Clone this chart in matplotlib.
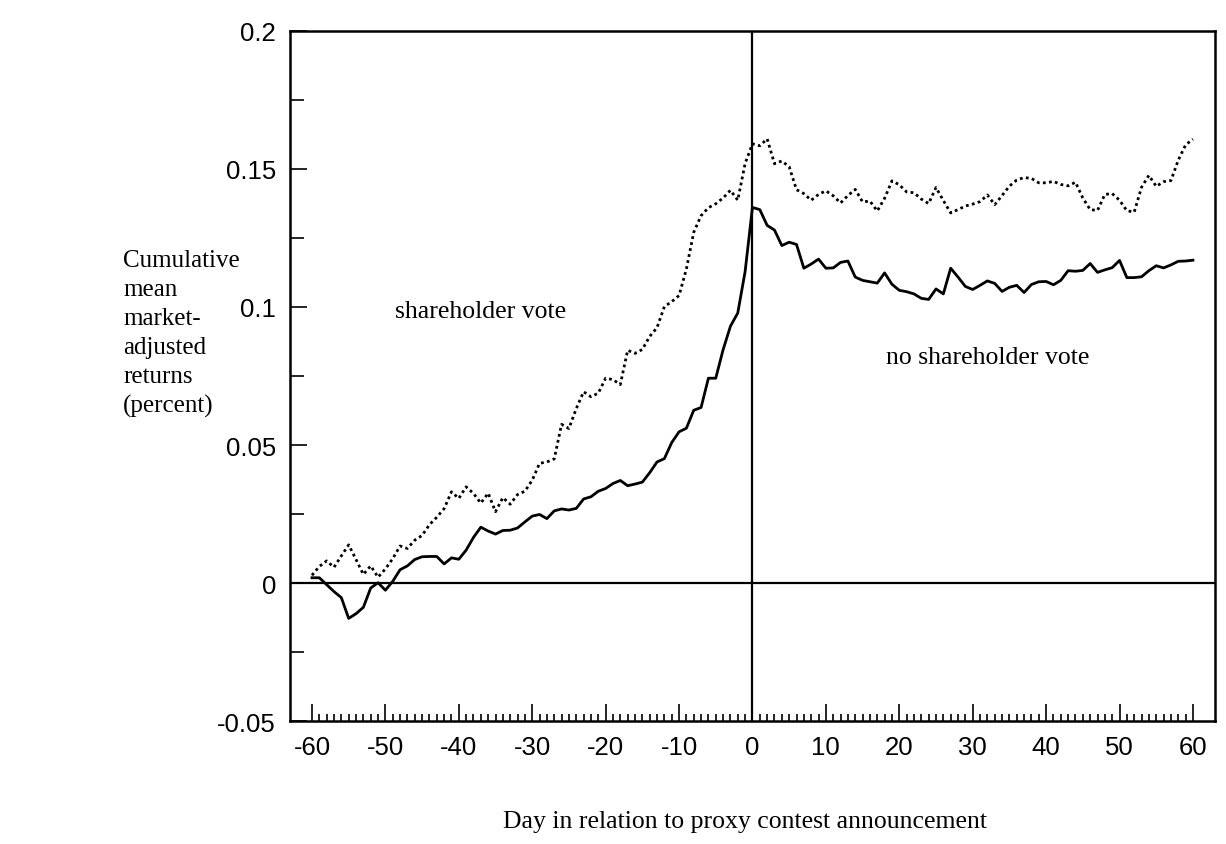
import numpy as np
import matplotlib
matplotlib.use("Agg")
import matplotlib.pyplot as plt

plt.rcParams["axes.unicode_minus"] = False

# days relative to the proxy contest announcement
days = list(range(-60, 61))

# cumulative mean market-adjusted returns
no_vote = [
    0.0020, 0.0020, -0.0005, -0.0030, -0.0052, -0.0127, -0.0110, -0.0087, -0.0017, 0.0002,
    -0.0025, 0.0007, 0.0049, 0.0063, 0.0086, 0.0096, 0.0097, 0.0097, 0.0070, 0.0092,
    0.0087, 0.0120, 0.0166, 0.0203, 0.0189, 0.0178, 0.0191, 0.0192, 0.0200, 0.0222,
    0.0243, 0.0249, 0.0234, 0.0262, 0.0269, 0.0265, 0.0271, 0.0305, 0.0313, 0.0333,
    0.0343, 0.0361, 0.0372, 0.0353, 0.0359, 0.0366, 0.0400, 0.0439, 0.0451, 0.0509,
    0.0548, 0.0561, 0.0626, 0.0636, 0.0742, 0.0742, 0.0845, 0.0930, 0.0978, 0.1128,
    0.1360,
    0.1352, 0.1295, 0.1278, 0.1222, 0.1234, 0.1226, 0.1140, 0.1155, 0.1173, 0.1140,
    0.1141, 0.1161, 0.1166, 0.1108, 0.1096, 0.1091, 0.1086, 0.1123, 0.1082, 0.1060,
    0.1055, 0.1047, 0.1031, 0.1027, 0.1065, 0.1047, 0.1140, 0.1108, 0.1074, 0.1063,
    0.1078, 0.1094, 0.1085, 0.1056, 0.1071, 0.1078, 0.1052, 0.1081, 0.1091, 0.1092,
    0.1080, 0.1096, 0.1131, 0.1129, 0.1132, 0.1157, 0.1125, 0.1134, 0.1142, 0.1168,
    0.1106, 0.1106, 0.1109, 0.1131, 0.1149, 0.1141, 0.1152, 0.1165, 0.1166, 0.1169,
]

vote = [
    0.0029, 0.0061, 0.0081, 0.0058, 0.0099, 0.0139, 0.0086, 0.0032, 0.0063, 0.0022,
    0.0052, 0.0089, 0.0135, 0.0126, 0.0156, 0.0173, 0.0212, 0.0239, 0.0270, 0.0331,
    0.0307, 0.0349, 0.0325, 0.0290, 0.0326, 0.0259, 0.0310, 0.0286, 0.0321, 0.0333,
    0.0373, 0.0434, 0.0439, 0.0450, 0.0575, 0.0560, 0.0632, 0.0693, 0.0675, 0.0688,
    0.0742, 0.0737, 0.0719, 0.0843, 0.0832, 0.0846, 0.0893, 0.0925, 0.1001, 0.1019,
    0.1041, 0.1137, 0.1270, 0.1330, 0.1359, 0.1373, 0.1394, 0.1422, 0.1386, 0.1519,
    0.1590,
    0.1583, 0.1608, 0.1518, 0.1528, 0.1507, 0.1424, 0.1410, 0.1386, 0.1407, 0.1420,
    0.1402, 0.1376, 0.1403, 0.1425, 0.1380, 0.1383, 0.1347, 0.1393, 0.1456, 0.1442,
    0.1416, 0.1413, 0.1390, 0.1374, 0.1432, 0.1385, 0.1340, 0.1352, 0.1365, 0.1372,
    0.1381, 0.1405, 0.1370, 0.1403, 0.1437, 0.1459, 0.1468, 0.1465, 0.1449, 0.1449,
    0.1454, 0.1443, 0.1438, 0.1451, 0.1394, 0.1352, 0.1349, 0.1407, 0.1410, 0.1386,
    0.1348, 0.1343, 0.1433, 0.1476, 0.1436, 0.1453, 0.1457, 0.1531, 0.1586, 0.1607,
]

x_ticks = list(range(-60, 61, 10))
y_ticks = [-0.05, 0, 0.05, 0.1, 0.15, 0.2]
y_tick_labels = ["-0.05", "0", "0.05", "0.1", "0.15", "0.2"]

serif = "Liberation Serif"
sans = "Liberation Sans"

fig = plt.figure(figsize=(12.26, 8.45), dpi=100)
ax = fig.add_axes([0.2365, 0.145, 0.7545, 0.8177])

# reference lines at zero
ax.axhline(0, color="black", lw=1.6, zorder=1)
ax.axvline(0, color="black", lw=1.6, zorder=1)

ax.plot(days, no_vote, color="black", lw=2.0, zorder=3)
ax.plot(days, vote, color="black", lw=2.0, linestyle=(0, (1.0, 1.2)), zorder=3)

ax.set_xlim(-63, 63)
ax.set_ylim(-0.05, 0.2)

ax.set_xticks(x_ticks)
ax.set_xticks(range(-60, 61), minor=True)
ax.set_yticks(y_ticks)
ax.set_yticklabels(y_tick_labels)
ax.set_yticks(np.arange(-0.025, 0.2, 0.05), minor=True)

ax.tick_params(axis="both", which="both", direction="in", top=False, right=False,
               width=1.2, labelsize=18.5)
ax.tick_params(axis="x", which="major", length=12, pad=10)
ax.tick_params(axis="x", which="minor", length=5)
ax.tick_params(axis="y", which="major", length=12, pad=10)
ax.tick_params(axis="y", which="minor", length=10)
for lab in ax.get_xticklabels() + ax.get_yticklabels():
    lab.set_family(sans)

for s in ax.spines.values():
    s.set_linewidth(1.8)

ax.text(-37, 0.0985, "shareholder vote", fontsize=18.5, family=serif,
        ha="center", va="center")
ax.text(32, 0.082, "no shareholder vote", fontsize=18.5, family=serif,
        ha="center", va="center")

fig.text(123 / 1226, 1 - 334 / 845,
         "Cumulative\nmean\nmarket-\nadjusted\nreturns\n(percent)",
         fontsize=18, family=serif, ha="left", va="center", linespacing=1.4)
fig.text(745 / 1226, 1 - 822 / 845, "Day in relation to proxy contest announcement",
         fontsize=18.5, family=serif, ha="center", va="center")

fig.savefig("out.png", dpi=100)
plt.close(fig)
